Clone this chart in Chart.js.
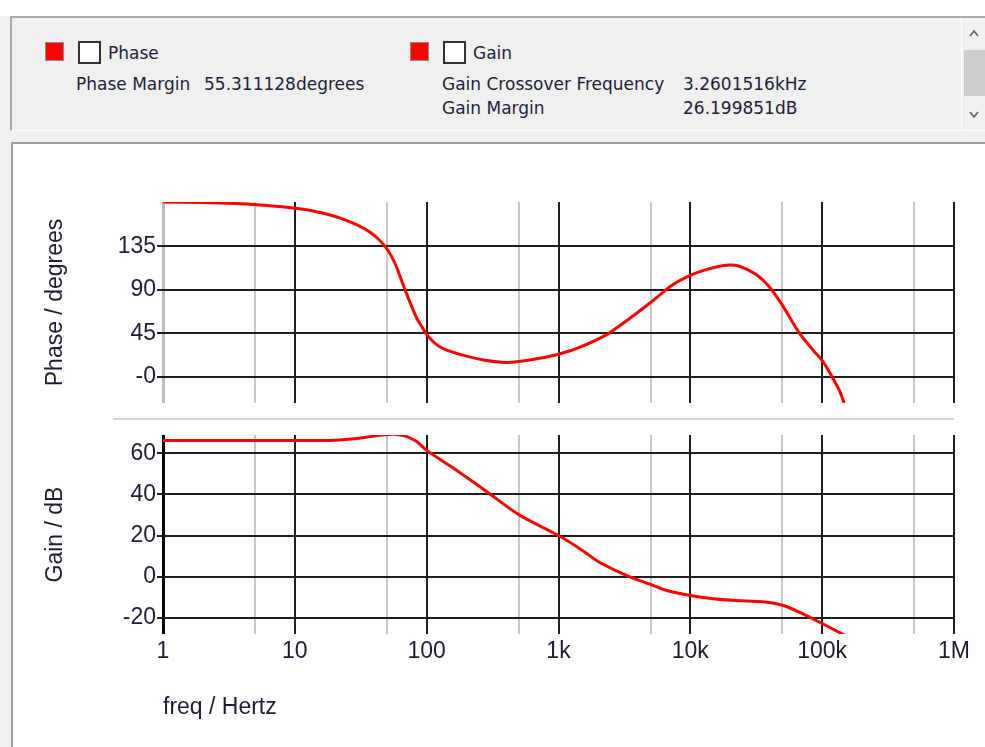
<!DOCTYPE html>
<html>
<head>
<meta charset="utf-8">
<script src="https://cdn.jsdelivr.net/npm/chart.js@4.4.1/dist/chart.umd.min.js"></script>
<style>
  body { margin: 0; width: 985px; height: 747px; background: #f0f0f0; position: relative; overflow: hidden; font-family: "DejaVu Sans", sans-serif; }
  .topstrip { position: absolute; left: 0; top: 0; width: 985px; height: 16px; background: #fff; }
  .panel { position: absolute; left: 10px; top: 16px; width: 973px; height: 112px; background: #f0f0f0; border-top: 2px solid #a9a9a9; border-left: 2px solid #a9a9a9; border-bottom: 1px solid #fff; }
  .txt { position: absolute; font-size: 17px; color: #1e1e3a; white-space: nowrap; line-height: 20px; }
  .swatch { position: absolute; width: 17px; height: 17px; background: #ff0000; border: 1px solid #8a8a8a; }
  .check { position: absolute; width: 19px; height: 19px; background: #fff; border: 2px solid #333; }
  .scroll { position: absolute; left: 961px; top: 18px; width: 24px; height: 112px; background: #f0f0f0; border-left: 1px solid #fff; }
  .thumb { position: absolute; left: 2px; top: 32px; width: 22px; height: 46px; background: #cdcdcd; }
  .frame { position: absolute; left: 11px; top: 142px; width: 974px; height: 605px; background: #fff; border-top: 2px solid #9ea0a6; border-left: 2px solid #9ea0a6; }
  .sep { position: absolute; left: 113px; top: 418px; width: 841px; height: 2px; background: #d4d4d4; }
  canvas { position: absolute; }
</style>
</head>
<body>
<div class="topstrip"></div>
<div class="panel"></div>
<div class="swatch" style="left:45px;top:42px;"></div>
<div class="check" style="left:78px;top:41px;"></div>
<div class="txt" style="left:108px;top:43px;">Phase</div>
<div class="txt" style="left:76px;top:74px;">Phase Margin</div>
<div class="txt" style="left:204px;top:74px;">55.311128degrees</div>
<div class="swatch" style="left:410px;top:42px;"></div>
<div class="check" style="left:443px;top:41px;"></div>
<div class="txt" style="left:473px;top:43px;">Gain</div>
<div class="txt" style="left:442px;top:74px;">Gain Crossover Frequency</div>
<div class="txt" style="left:683px;top:74px;">3.2601516kHz</div>
<div class="txt" style="left:442px;top:98px;">Gain Margin</div>
<div class="txt" style="left:683px;top:98px;">26.199851dB</div>
<div class="scroll">
  <svg width="24" height="112" style="position:absolute;left:0;top:0">
    <polyline points="8,18 12,13 16,18" fill="none" stroke="#606060" stroke-width="1.6"/>
    <polyline points="8,94 12,99 16,94" fill="none" stroke="#606060" stroke-width="1.6"/>
  </svg>
  <div class="thumb"></div>
</div>
<div class="frame"></div>
<div class="sep"></div>
<canvas id="phaseChart" width="973" height="270" style="left:12px;top:143px;"></canvas>
<canvas id="gainChart" width="973" height="334" style="left:12px;top:413px;"></canvas>
<script>
// frequency axis
const freqTicks = [1, 5, 10, 50, 100, 500, 1000, 5000, 10000, 50000, 100000, 500000, 1000000];
const freqLabels = ['1', '', '10', '', '100', '', '1k', '', '10k', '', '100k', '', '1M'];

// phase curve (degrees)
const phaseFreq = [1, 2, 3.5, 5.4, 8, 10, 14, 18, 24.6, 31, 37, 42, 49, 54, 59, 64, 70, 77, 84, 92, 100, 115, 135, 188, 270, 390, 500, 700, 1000, 1440, 2300, 3460, 5000, 7300, 10000, 13200, 18700, 23500, 31600, 39800, 50000, 67000, 85000, 100000, 119000, 134000, 147000];
const phaseDeg = [181, 180.5, 179.5, 178, 176, 174.5, 171.5, 168, 162, 156, 150, 144, 134, 125, 114, 101, 87, 73, 61, 52, 44, 35, 29, 22.5, 17.5, 15, 16, 19, 23.5, 30.5, 43.5, 60.5, 77, 95, 105, 111, 115.5, 114.5, 106, 93, 74, 45.5, 28, 17, 0, -13, -27];
const phaseTicks = [0, 45, 90, 135];
const phaseTickLabels = ['-0', '45', '90', '135'];

// gain curve (dB)
const gainFreq = [1, 10, 20, 30, 37, 45, 52, 60, 70, 84, 100, 158, 283, 500, 1000, 1500, 2000, 2700, 3600, 5000, 6600, 10000, 15000, 21000, 37000, 50000, 67000, 100000, 147000];
const gainDb = [66.3, 66.3, 66.5, 67.3, 68.2, 69, 69.3, 69.2, 68.3, 65.8, 61.5, 53, 41.6, 30.2, 20, 13, 7.3, 3, -0.5, -3.8, -6.8, -9.2, -10.8, -11.6, -12.4, -14, -17.3, -22.9, -28.5];
const gainTicks = [-20, 0, 20, 40, 60];
const gainTickLabels = ['-20', '0', '20', '40', '60'];

const plotFont = { family: '"Liberation Sans", Arial, sans-serif', size: 23 };
const textColor = '#1c1c34';

function toPoints(xs, ys) {
    return xs.map((x, i) => ({ x: x, y: ys[i] }));
}

function xScale(showLabels, firstColor, height) {
    return {
        type: 'logarithmic',
        min: 1,
        max: 1000000,
        afterBuildTicks: scale => { scale.ticks = freqTicks.map(v => ({ value: v })); },
        afterFit: scale => {
            scale.height = height;
            scale.paddingLeft = 0;
            scale.paddingRight = 0;
        },
        border: { display: false },
        grid: {
            drawTicks: false,
            color: ctx => {
                const v = ctx.tick ? ctx.tick.value : 0;
                if (v === 1) return firstColor;
                return Math.log10(v) % 1 === 0 ? '#1e1e1e' : '#c8c8c8';
            },
            lineWidth: ctx => (ctx.tick && ctx.tick.value === 1) ? 3 : 2
        },
        ticks: {
            display: showLabels,
            autoSkip: false,
            maxRotation: 0,
            padding: 4,
            color: textColor,
            font: plotFont,
            callback: (value, index) => freqLabels[index]
        },
        title: {
            display: showLabels,
            text: 'freq / Hertz',
            align: 'start',
            color: textColor,
            font: plotFont,
            padding: { top: 0, bottom: 26 }
        }
    };
}

function yScale(min, max, ticks, labels, titleText) {
    return {
        type: 'linear',
        min: min,
        max: max,
        afterBuildTicks: scale => { scale.ticks = ticks.map(v => ({ value: v })); },
        afterFit: scale => {
            scale.width = 151;
            scale.paddingTop = 0;
            scale.paddingBottom = 0;
        },
        border: { display: false },
        grid: { color: '#1e1e1e', lineWidth: 2, tickLength: 6 },
        ticks: {
            padding: 1,
            color: textColor,
            font: plotFont,
            callback: (value, index) => labels[index]
        },
        title: {
            display: true,
            text: titleText,
            color: textColor,
            font: plotFont,
            padding: { top: 30, bottom: 0 }
        }
    };
}

function makeChart(id, points, yOpts, xOpts, padTop) {
    return new Chart(document.getElementById(id).getContext('2d'), {
        type: 'line',
        data: {
            datasets: [{
                data: points,
                borderColor: '#ff0000',
                borderWidth: 3,
                pointRadius: 0,
                tension: 0.3,
                fill: false
            }]
        },
        options: {
            responsive: false,
            animation: false,
            parsing: false,
            layout: { padding: { left: 0, right: 31, top: padTop, bottom: 0 } },
            plugins: { legend: { display: false }, tooltip: { enabled: false } },
            scales: { x: xOpts, y: yOpts }
        }
    });
}

makeChart('phaseChart', toPoints(phaseFreq, phaseDeg),
    yScale(-27, 181, phaseTicks, phaseTickLabels, 'Phase / degrees'),
    xScale(false, '#bdbdbd', 10), 59);

makeChart('gainChart', toPoints(gainFreq, gainDb),
    yScale(-28, 69, gainTicks, gainTickLabels, 'Gain / dB'),
    xScale(true, '#000000', 113), 22);
</script>
</body>
</html>
